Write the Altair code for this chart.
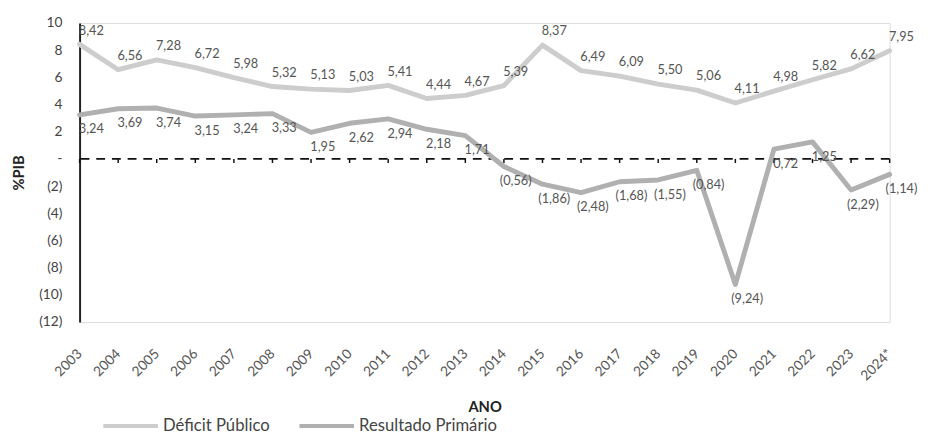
import altair as alt
import pandas as pd

anos = ["2003", "2004", "2005", "2006", "2007", "2008", "2009", "2010", "2011", "2012", "2013",
        "2014", "2015", "2016", "2017", "2018", "2019", "2020", "2021", "2022", "2023", "2024*"]
deficit_publico = [8.42, 6.56, 7.28, 6.72, 5.98, 5.32, 5.13, 5.03, 5.41, 4.44, 4.67,
                   5.39, 8.37, 6.49, 6.09, 5.50, 5.06, 4.11, 4.98, 5.82, 6.62, 7.95]
resultado_primario = [3.24, 3.69, 3.74, 3.15, 3.24, 3.33, 1.95, 2.62, 2.94, 2.18, 1.71,
                      -0.56, -1.86, -2.48, -1.68, -1.55, -0.84, -9.24, 0.72, 1.25, -2.29, -1.14]
series = ["Déficit Público", "Resultado Primário"]
cores = ["#cdcdcd", "#b0b0b0"]
y_ticks = [10, 8, 6, 4, 2, 0, -2, -4, -6, -8, -10, -12]

FONT = "Lato"


def fmt(v):
    s = f"{abs(v):.2f}".replace(".", ",")
    return f"({s})" if v < 0 else s


rows = []
for serie, vals in zip(series, [deficit_publico, resultado_primario]):
    for a, v in zip(anos, vals):
        rows.append({"ano": a, "serie": serie, "valor": v, "rotulo": fmt(v)})
df = pd.DataFrame(rows)
df_anos = pd.DataFrame({"ano": anos, "zero": [0] * len(anos), "tick": [-0.3] * len(anos)})

x_axis = alt.Axis(
    title="ANO", labelAngle=-45, labelAlign="right", labelBaseline="middle",
    labelOverlap=False, labelBound=False,
    domain=False, ticks=False, labelPadding=30, labelFontSize=14, labelColor="#555555",
    labelFont=FONT, titleFont=FONT, titleFontSize=15, titleFontWeight="bold",
    titleColor="#222222", titlePadding=17,
)
y_axis = alt.Axis(
    title="%PIB", values=y_ticks, grid=False, ticks=False, tickCount=12,
    labelOverlap=False, labelBound=False,
    domainColor="#222222", domainWidth=2,
    labelExpr="datum.value == 0 ? '-' : (datum.value < 0 ? '(' + abs(datum.value) + ')' : datum.value)",
    labelFontSize=14, labelColor="#444444", labelFont=FONT, labelPadding=18,
    titleFont=FONT, titleFontSize=15, titleFontWeight="bold", titleColor="#222222",
    titlePadding=12,
)
x_scale = alt.Scale(type="point", padding=0)
y_scale = alt.Scale(domain=[-12, 10], nice=False, zero=False)


def xe():
    return alt.X("ano:N", sort=anos, scale=x_scale, axis=x_axis)


def ye(field):
    return alt.Y(field, scale=y_scale, axis=y_axis)


lines = alt.Chart(df).mark_line(strokeWidth=5, strokeCap="round", strokeJoin="round").encode(
    x=xe(),
    y=ye("valor:Q"),
    color=alt.Color(
        "serie:N", sort=series,
        scale=alt.Scale(domain=series, range=cores),
        legend=alt.Legend(
            title=None, orient="none", legendX=22, legendY=381, direction="horizontal",
            symbolType="stroke", symbolSize=3100, symbolStrokeWidth=4,
            labelFont=FONT, labelFontSize=17, labelColor="#444444",
            columnPadding=22, labelOffset=3,
        ),
    ),
)

zero_line = alt.Chart(pd.DataFrame({"y": [0]})).mark_rule(
    color="#111111", strokeDash=[9, 7], strokeWidth=1.8
).encode(y=ye("y:Q"))

tick_marks = alt.Chart(df_anos).mark_rule(color="#111111", strokeWidth=1.5).encode(
    x=xe(),
    y=ye("zero:Q"),
    y2="tick:Q",
)

base_text = alt.Chart(df)
labels_top = base_text.transform_filter(alt.datum.serie == series[0]).mark_text(
    dx=12, dy=-14, fontSize=13, font=FONT, color="#555555"
).encode(x=xe(), y=ye("valor:Q"), text="rotulo:N")
labels_bot = base_text.transform_filter(alt.datum.serie == series[1]).mark_text(
    dx=12, dy=15, fontSize=13, font=FONT, color="#555555"
).encode(x=xe(), y=ye("valor:Q"), text="rotulo:N")

chart = alt.layer(zero_line, tick_marks, lines, labels_top, labels_bot).properties(
    width=826, height=305, padding={"left": 4, "top": 4, "right": 5, "bottom": 0}
).configure_view(stroke=None).configure(background="white")

chart.save("out.html", embed_options={"renderer": "svg", "actions": False})
